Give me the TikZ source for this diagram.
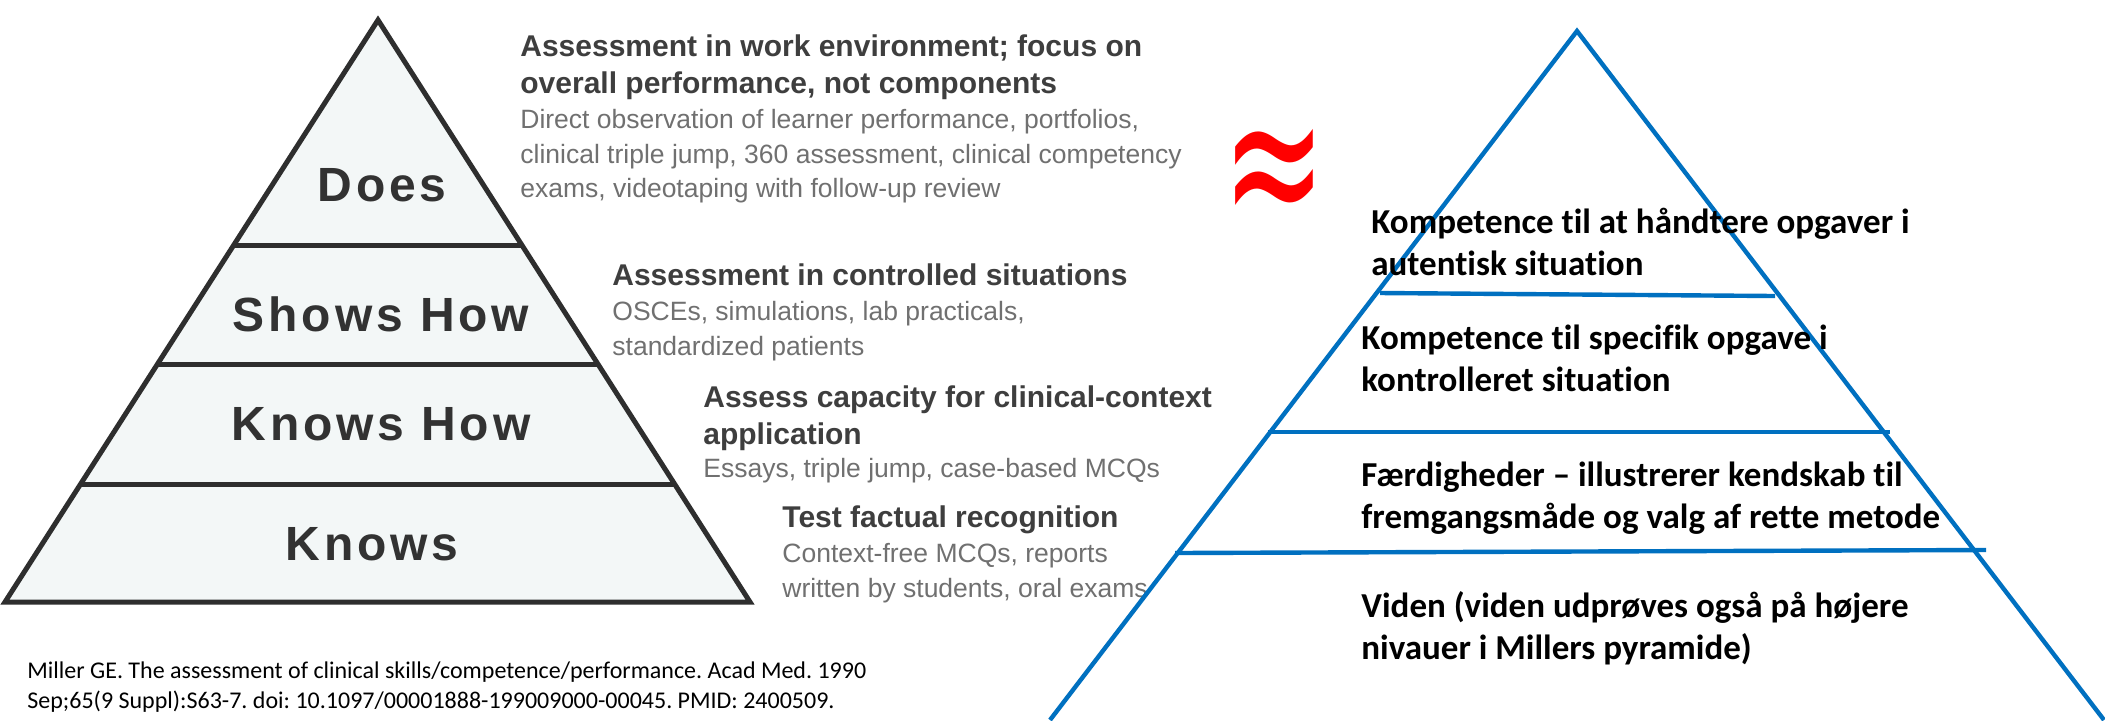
\documentclass[tikz,border=0pt]{standalone}
\usepackage{fontspec}
\setmainfont{Liberation Sans}
\newfontfamily\calibrifont[Ligatures=NoCommon]{Carlito}
\newfontfamily\tierfont[LetterSpace=8]{Liberation Sans}
\newfontfamily\symbolfont{DejaVu Sans}
\definecolor{pyrline}{RGB}{46,46,46}
\definecolor{pyrfill}{RGB}{243,247,247}
\definecolor{headgray}{RGB}{62,62,62}
\definecolor{bodygray}{RGB}{112,112,112}
\definecolor{tiergray}{RGB}{50,50,50}
\definecolor{officeblue}{RGB}{0,112,192}

\begin{document}
\frenchspacing
\begin{tikzpicture}[x=0.5pt,y=-0.5pt,inner sep=0pt,
  tier/.style={font=\tierfont\bfseries\fontsize{24}{28}\selectfont,text=tiergray},
  head/.style={anchor=north west,align=left,font=\bfseries\fontsize{15}{18.5}\selectfont,text=headgray},
  body/.style={anchor=north west,align=left,font=\fontsize{13.25}{17.25}\selectfont,text=bodygray},
  level/.style={anchor=north west,align=left,font=\calibrifont\bfseries\fontsize{17.5}{21}\selectfont},
  pyrLine/.style={line width=2.5pt,draw=pyrline},
  levLine/.style={line width=2.2pt,draw=officeblue}]
\fill[white] (0,0) rectangle (2105,720);
\useasboundingbox (0,0) rectangle (2105,720);

\coordinate (top1)   at ( 378, 20);
\coordinate (left1)  at (   5,602);
\coordinate (right1) at ( 750,602);
\filldraw[pyrLine,fill=pyrfill] (top1) -- (left1) -- (right1) -- cycle;
\draw[pyrLine] ( 234,245) -- ( 522,245);
\draw[pyrLine] ( 158,364) -- ( 598,364);
\draw[pyrLine] (  81,484) -- ( 675,484);

\node[tier] (Does1)     at ( 382,185) {Does};
\node[tier] (ShowsHow1) at ( 381,314) {Shows How};
\node[tier] (KnowsHow1) at ( 381,424) {Knows How};
\node[tier] (Knows1)    at ( 372,544) {Knows};

\node[head] (DoesHead1)     at ( 520, 34) {Assessment in work environment; focus on\\overall performance, not components};
\node[body] (DoesText1)     at ( 520,109) {Direct observation of learner performance, portfolios,\\clinical triple jump, 360 assessment, clinical competency\\exams, videotaping with follow-up review};
\node[head] (ShowsHowHead1) at ( 612,263) {Assessment in controlled situations};
\node[body] (ShowsHowText1) at ( 612,301) {OSCEs, simulations, lab practicals,\\standardized patients};
\node[head] (KnowsHowHead1) at ( 703,385) {Assess capacity for clinical-context\\application};
\node[body] (KnowsHowText1) at ( 703,458) {Essays, triple jump, case-based MCQs};
\node[head] (KnowsHead1)    at ( 782,505) {Test factual recognition};
\node[body] (KnowsText1)    at ( 782,543) {Context-free MCQs, reports\\written by students, oral exams};

\node[anchor=north west,align=left,font=\calibrifont\fontsize{12}{15}\selectfont] (Source1) at (27,661)
  {Miller GE. The assessment of clinical skills/competence/performance. Acad Med. 1990\\Sep;65(9 Suppl):S63-7. doi: 10.1097/00001888-199009000-00045. PMID: 2400509.};

\node[text=red,font=\symbolfont\fontsize{62}{62}\selectfont] (Approx) at (1274,181) {\scalebox{1}[1.7]{≈}};

\coordinate (top2)   at (1577, 31);
\coordinate (left2)  at (1050,720);
\coordinate (right2) at (2104,720);
\draw[levLine] (left2) -- (top2) -- (right2);
\draw[levLine] (1380,293) -- (1775,296);
\draw[levLine] (1268,432) -- (1890,432);
\draw[levLine] (1175,553) -- (1986,550);

\node[level] (Does2)     at (1371,208) {Kompetence til at håndtere opgaver i\\autentisk situation};
\node[level] (ShowsHow2) at (1361,325) {Kompetence til specifik opgave i\\kontrolleret situation};
\node[level] (KnowsHow2) at (1361,462) {Færdigheder – illustrerer kendskab til\\fremgangsmåde og valg af rette metode};
\node[level] (Knows2)    at (1361,591) {Viden (viden udprøves også på højere\\nivauer i Millers pyramide)};
\end{tikzpicture}
\end{document}
